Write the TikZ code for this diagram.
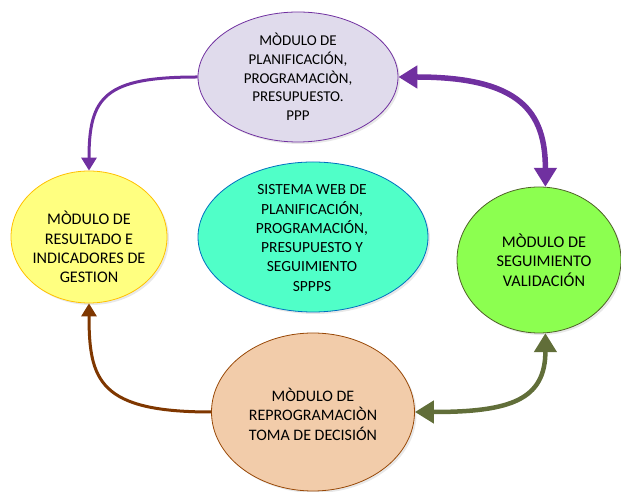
\documentclass[tikz,border=0pt]{standalone}
\usepackage{fontspec}
\setmainfont{Carlito}
\usetikzlibrary{arrows.meta,shapes.geometric,shadows}
\definecolor{topfill}{RGB}{224,219,236}
\definecolor{purp}{RGB}{112,48,160}
\definecolor{yelfill}{RGB}{255,255,128}
\definecolor{yelline}{RGB}{255,192,0}
\definecolor{cyanfill}{RGB}{80,255,200}
\definecolor{cyanline}{RGB}{0,112,192}
\definecolor{grnfill}{RGB}{140,255,80}
\definecolor{grnline}{RGB}{79,98,40}
\definecolor{pchfill}{RGB}{242,204,170}
\definecolor{pchline}{RGB}{152,72,7}
\definecolor{brownarr}{RGB}{127,55,0}
\definecolor{olivearr}{RGB}{97,110,57}
\begin{document}
\begin{tikzpicture}[x=1pt,y=1pt,
  modshape/.style={ellipse, line width=0.8pt, inner sep=0pt,
    drop shadow={opacity=0.18, shadow xshift=2pt, shadow yshift=-2pt}},
  modtext/.style={align=center, inner sep=0pt, text=black},
  thinarr/.style={line width=3pt, -{Triangle[length=13pt,width=15pt]}},
  thickarr/.style={line width=5.5pt, {Triangle[length=19pt,width=22pt]}-{Triangle[length=19pt,width=22pt]}}
]
\useasboundingbox (0,0) rectangle (621,492);

\node[modshape, fill=topfill, draw=purp, minimum width=200pt, minimum height=130pt] (top) at (298,415) {};
\node[modtext, font=\fontsize{15}{18.7}\selectfont] (toptext) at (298,415) {MÒDULO DE\\PLANIFICACIÓN,\\PROGRAMACIÒN,\\PRESUPUESTO.\\PPP};

\node[modshape, fill=yelfill, draw=yelline, minimum width=156pt, minimum height=132pt] (left) at (89,255) {};
\node[modtext, font=\fontsize{16.2}{19.3}\selectfont] (lefttext) at (89,245) {MÒDULO DE\\RESULTADO E\\INDICADORES DE\\GESTION};

\node[modshape, fill=cyanfill, draw=cyanline, minimum width=230pt, minimum height=150pt] (center) at (313,255) {};
\node[modtext, font=\fontsize{15.5}{19.3}\selectfont] (centertext) at (312,254) {SISTEMA WEB DE\\PLANIFICACIÓN,\\PROGRAMACIÓN,\\PRESUPUESTO Y\\SEGUIMIENTO\\SPPPS};

\node[modshape, fill=grnfill, draw=grnline, minimum width=164pt, minimum height=146pt] (right) at (539,232) {};
\node[modtext, font=\fontsize{16.3}{19.7}\selectfont] (righttext) at (544,232) {MÒDULO DE\\SEGUIMIENTO\\VALIDACIÓN};

\node[modshape, fill=pchfill, draw=pchline, minimum width=203pt, minimum height=158pt] (bottom) at (313,80) {};
\node[modtext, font=\fontsize{16}{19.5}\selectfont] (bottomtext) at (313,78) {MÒDULO DE\\REPROGRAMACIÒN\\TOMA DE DECISIÓN};

\draw[thinarr, purp] (top.west) .. controls +(-93,0) and +(0,74) .. (left.north);
\draw[thickarr, purp] (top.east) .. controls +(122,0) and +(0,75) .. (right.85);
\draw[thinarr, brownarr] (bottom.west) .. controls +(-112,0) and +(0,-77) .. (left.south);
\draw[thickarr, olivearr, line width=4.5pt] (bottom.east) .. controls +(95,0) and +(0,-67) .. (right.-85);
\end{tikzpicture}
\end{document}
